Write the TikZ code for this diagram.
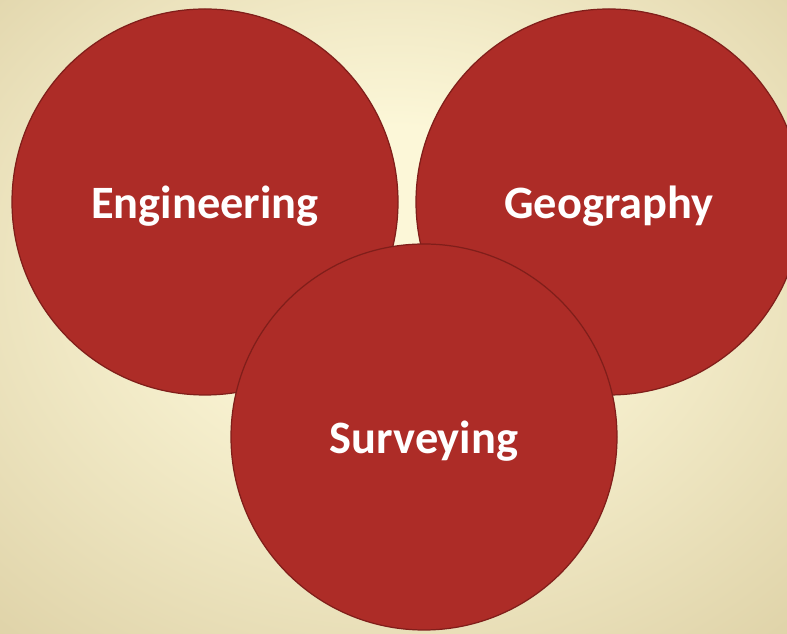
\documentclass[tikz,border=0pt]{standalone}
\usepackage{fontspec}
\setmainfont{Carlito}
\usetikzlibrary{shapes,positioning}

\definecolor{discred}{RGB}{173,44,39}
\definecolor{discedge}{RGB}{128,30,26}
\definecolor{bglight}{RGB}{252,247,216}
\definecolor{bgdark}{RGB}{212,197,150}
\pgfdeclareradialshading{bgglow}{\pgfpoint{0bp}{6bp}}{color(0bp)=(bglight); color(10bp)=(bglight); color(48bp)=(bgdark); color(60bp)=(bgdark)}

\begin{document}
\begin{tikzpicture}[
    disc/.style={circle, draw=discedge, line width=0.7pt, fill=discred, minimum size=7.72cm, inner sep=0pt, text depth=0pt, align=center, text=white, font=\fontsize{26.4}{30}\selectfont\bfseries}
]

% Background
\useasboundingbox (0,0) rectangle (15.74,12.68);
\clip (0,0) rectangle (15.74,12.68);
\shade[shading=bgglow] (0,0) rectangle (15.74,12.68);

% Discs
\node[disc] (eng) at (4.10,8.64) {Engineering};
\node[disc] (geo) at (12.18,8.64) {Geography};
\node[disc] (surv) at (8.48,3.94) {Surveying};

\end{tikzpicture}
\end{document}
